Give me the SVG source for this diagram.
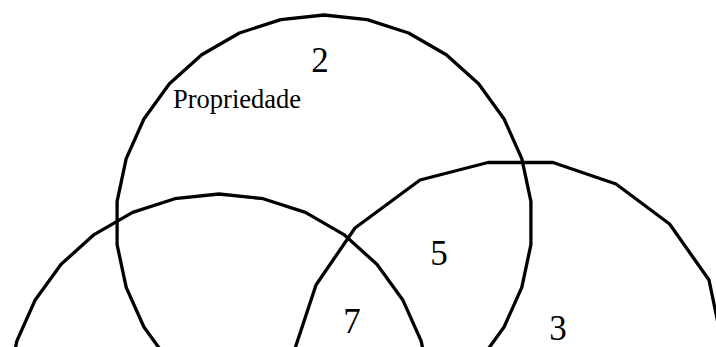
<svg xmlns="http://www.w3.org/2000/svg" width="716" height="347" viewBox="0 0 716 347">
<style>
.c{fill:none;stroke:#000;stroke-width:3.3;stroke-linejoin:round}
.n{font-family:"Liberation Serif","Times New Roman",serif;font-size:35px;fill:#000;text-anchor:middle}
.l{font-family:"Liberation Serif","Times New Roman",serif;font-size:26.5px;fill:#000}
</style>
<rect width="716" height="347" fill="#fff"/>
<g id="set-top">
<polygon class="c" points="324,15 367.2,19.6 408.6,33 446.3,54.7 478.6,83.8 504.1,119 521.8,158.7 530.9,201.3 530.9,244.7 521.8,287.3 504.1,327 478.6,362.2 446.3,391.3 408.6,413 367.2,426.4 324,431 280.8,426.4 239.4,413 201.7,391.3 169.4,362.2 143.9,327 126.2,287.3 117.1,244.7 117.1,201.3 126.2,158.7 143.9,119 169.4,83.8 201.7,54.7 239.4,33 280.8,19.6"/>
<text class="n" x="320" y="72">2</text>
<text class="l" x="173" y="108">Propriedade</text>
</g>
<g id="set-left">
<polygon class="c" points="219,194 263.2,198.7 305.4,212.4 343.9,234.6 376.9,264.3 403,300.3 421.1,340.8 430.3,384.3 430.3,428.7 421.1,472.2 403,512.8 376.9,548.7 343.9,578.4 305.4,600.6 263.2,614.3 219,619 174.8,614.3 132.6,600.6 94.1,578.4 61.1,548.7 35,512.8 16.9,472.2 7.7,428.7 7.7,384.3 16.9,340.8 35,300.3 61.1,264.3 94.1,234.6 132.6,212.4 174.8,198.7"/>
</g>
<g id="set-right">
<polygon class="c" points="553,162.5 616,184 669.6,224 709,280 724,352 724,412 710,481.9 669.6,537.6 613.9,578 548.4,599.3 479.6,599.3 414.1,578 358.4,537.6 318,481.9 295.5,416.4 295.5,347 316,285 355,228 420,180 488,162.5"/>
<text class="n" x="558" y="340">3</text>
</g>
<g id="labels">
<text class="n" x="439" y="265">5</text>
<text class="n" x="352" y="333">7</text>
</g>
</svg>
